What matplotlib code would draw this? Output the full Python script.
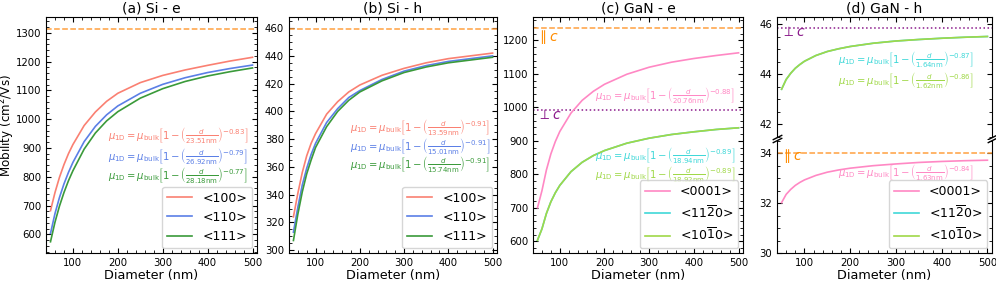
import numpy as np
import matplotlib
matplotlib.use("Agg")
import matplotlib.pyplot as plt
from matplotlib.ticker import AutoMinorLocator

# === Data ===
diam = [50, 60, 70, 80, 90, 100, 125, 150, 175, 200, 250, 300, 350, 400, 450, 500]

si_e_100 = [682, 745, 798, 842, 880, 912, 978, 1025, 1062, 1090, 1127, 1152, 1171, 1187, 1202, 1215]
si_e_110 = [603, 672, 728, 775, 815, 850, 922, 975, 1015, 1046, 1090, 1121, 1144, 1162, 1176, 1188]
si_e_111 = [574, 642, 698, 745, 786, 821, 896, 952, 994, 1026, 1073, 1106, 1131, 1150, 1165, 1178]
si_e_bulk = 1315

si_h_100 = [324, 341, 356, 368, 377, 384, 398, 407, 414, 419, 426, 431, 435, 438, 440, 442]
si_h_110 = [313, 331, 347, 359, 369, 377, 392, 402, 410, 415, 423, 429, 433, 436, 438, 440]
si_h_111 = [307, 326, 342, 355, 365, 374, 389, 400, 408, 414, 422, 428, 432, 435, 437, 439]
si_h_bulk = 459

gan_e_0001 = [700, 751, 813, 861, 898, 928, 983, 1021, 1048, 1069, 1099, 1120, 1135, 1146, 1155, 1163]
gan_e_1120 = [603, 637, 683, 718, 745, 767, 808, 836, 856, 871, 893, 908, 919, 927, 934, 939]
gan_e_1010 = [603, 637, 683, 718, 745, 767, 808, 836, 856, 871, 893, 908, 919, 927, 934, 939]
gan_e_par = 1238
gan_e_perp = 993

gan_h_0001 = [32.02, 32.35, 32.55, 32.71, 32.83, 32.93, 33.11, 33.24, 33.33, 33.40, 33.50, 33.57, 33.63, 33.67, 33.70, 33.72]
gan_h_1120 = [43.41, 43.80, 44.05, 44.25, 44.40, 44.53, 44.76, 44.92, 45.03, 45.12, 45.25, 45.34, 45.40, 45.45, 45.49, 45.52]
gan_h_1010 = [43.41, 43.80, 44.05, 44.25, 44.40, 44.53, 44.76, 44.92, 45.03, 45.12, 45.25, 45.34, 45.40, 45.45, 45.49, 45.52]
gan_h_par = 34.0
gan_h_perp = 45.85

si_labels = ['<100>', '<110>', '<111>']
gan_labels = ['<0001>', r'<11$\overline{2}$0>', r'<10$\overline{1}$0>']

si_fits = {'e': [('23.51', '0.83'), ('26.92', '0.79'), ('28.18', '0.77')],
           'h': [('13.59', '0.91'), ('15.01', '0.91'), ('15.74', '0.91')]}
gan_e_fits = [('20.76', '0.88'), ('18.94', '0.89'), ('18.92', '0.89')]
gan_h_fits = [('1.63', '0.84'), ('1.64', '0.87'), ('1.62', '0.86')]

si_colors = ['#fa8072', '#5b7fe6', '#3a9a3a']
gan_colors = ['#ff88c4', '#40d8d8', '#a0d848']
orange = '#ffa040'
purple = '#8b1a8b'

W, H = 996, 285
fig = plt.figure(figsize=(W / 100, H / 100), dpi=100)


def px_axes(x0, x1, y0, y1):
    return fig.add_axes([x0 / W, (H - y1) / H, (x1 - x0) / W, (y1 - y0) / H])


def style(ax):
    ax.tick_params(which='both', direction='in', top=True, right=True, labelsize=7.3)
    ax.tick_params(which='major', length=3.5)
    ax.tick_params(which='minor', length=2)
    ax.xaxis.set_minor_locator(AutoMinorLocator())
    ax.yaxis.set_minor_locator(AutoMinorLocator())
    ax.set_xlim(40, 510)


def formula(ax, y, d0, p, color, x=0.295):
    s = (r'$\mu_{\mathrm{1D}}=\mu_{\mathrm{bulk}}\left[1-\left(\frac{d}{%s\mathrm{nm}}\right)^{-%s}\right]$'
         % (d0, p))
    ax.text(x, y, s, color=color, fontsize=7.2, ha='left', va='center', transform=ax.transAxes)


# === (a) and (b) Si ===
ax_a = px_axes(46, 257, 17, 253)
ax_b = px_axes(289, 497, 17, 253)
for ax, series, bulk, key, title, ylim, ys in [
        (ax_a, [si_e_100, si_e_110, si_e_111], si_e_bulk, 'e', '(a) Si - e', (535, 1355), [0.50, 0.41, 0.33]),
        (ax_b, [si_h_100, si_h_110, si_h_111], si_h_bulk, 'h', '(b) Si - h', (298, 468), [0.535, 0.455, 0.377])]:
    ax.axhline(bulk, color=orange, ls='--', lw=1.1)
    for vals, lab, col in zip(series, si_labels, si_colors):
        ax.plot(diam, vals, color=col, lw=1.2, label=lab)
    for (d0, p), col, y in zip(si_fits[key], si_colors, ys):
        formula(ax, y, d0, p, col)
    style(ax)
    ax.set_ylim(*ylim)
    ax.set_title(title, fontsize=10, pad=3)
    ax.set_xlabel('Diameter (nm)', fontsize=9.2, labelpad=1)
    ax.legend(loc='lower right', fontsize=9, handlelength=2.0, borderaxespad=0.4)
ax_a.set_ylabel('Mobility (cm$^2$/Vs)', fontsize=8.6)
ax_a.yaxis.set_label_coords(-0.138, 0.54)

# === (c) GaN - e ===
ax_c = px_axes(533, 743, 17, 253)
ax_c.axhline(gan_e_par, color=orange, ls='--', lw=1.1)
ax_c.axhline(gan_e_perp, color=purple, ls=':', lw=1.1)
for vals, lab, col in zip([gan_e_0001, gan_e_1120, gan_e_1010], gan_labels, gan_colors):
    ax_c.plot(diam, vals, color=col, lw=1.2, label=lab)
for (d0, p), col, y in zip(gan_e_fits, gan_colors, [0.67, 0.414, 0.336]):
    formula(ax_c, y, d0, p, col)
ax_c.text(0.02, 0.955, r'$\parallel c$', color='darkorange', fontsize=10, va='top', transform=ax_c.transAxes)
ax_c.text(0.02, 0.615, r'$\perp c$', color=purple, fontsize=10, va='top', transform=ax_c.transAxes)
style(ax_c)
ax_c.set_ylim(565, 1270)
ax_c.set_title('(c) GaN - e', fontsize=10, pad=3)
ax_c.set_xlabel('Diameter (nm)', fontsize=9.2, labelpad=1)
ax_c.legend(loc='lower right', fontsize=9, borderaxespad=0.4)

# === (d) GaN - h, broken axis ===
ax_dt = px_axes(777, 992, 17, 137)
ax_db = px_axes(777, 992, 139.5, 253)
ax_dt.axhline(gan_h_perp, color=purple, ls=':', lw=1.1)
ax_db.axhline(gan_h_par, color=orange, ls='--', lw=1.1)
for ax in (ax_dt, ax_db):
    for vals, lab, col in zip([gan_h_0001, gan_h_1120, gan_h_1010], gan_labels, gan_colors):
        ax.plot(diam, vals, color=col, lw=1.2, label=lab)
    style(ax)
ax_dt.set_ylim(41.5, 46.3)
ax_db.set_ylim(30, 34.55)
ax_dt.set_yticks([42, 44, 46])
ax_db.set_yticks([30, 32, 34])
ax_dt.spines['bottom'].set_visible(False)
ax_db.spines['top'].set_visible(False)
ax_dt.tick_params(which='both', bottom=False, labelbottom=False)
ax_db.tick_params(which='both', top=False)
formula(ax_dt, 0.648, *gan_h_fits[1], gan_colors[1], x=0.285)
formula(ax_dt, 0.473, *gan_h_fits[2], gan_colors[2], x=0.285)
formula(ax_db, 0.712, *gan_h_fits[0], gan_colors[0], x=0.285)
ax_dt.text(0.02, 0.935, r'$\perp c$', color=purple, fontsize=10, va='top', transform=ax_dt.transAxes)
ax_db.text(0.02, 0.93, r'$\parallel c$', color='darkorange', fontsize=10, va='top', transform=ax_db.transAxes)
ax_dt.set_title('(d) GaN - h', fontsize=10, pad=3)
ax_db.set_xlabel('Diameter (nm)', fontsize=9.2, labelpad=1)
ax_db.legend(loc='lower right', fontsize=9, borderaxespad=0.4)

# break marks
kw = dict(marker=[(-1, -0.5), (1, 0.5)], markersize=7, linestyle='none', color='k', mec='k', mew=1, clip_on=False)
ax_dt.plot([0, 1], [0, 0], transform=ax_dt.transAxes, **kw)
ax_db.plot([0, 1], [1, 1], transform=ax_db.transAxes, **kw)

fig.savefig('out.png', dpi=100)
